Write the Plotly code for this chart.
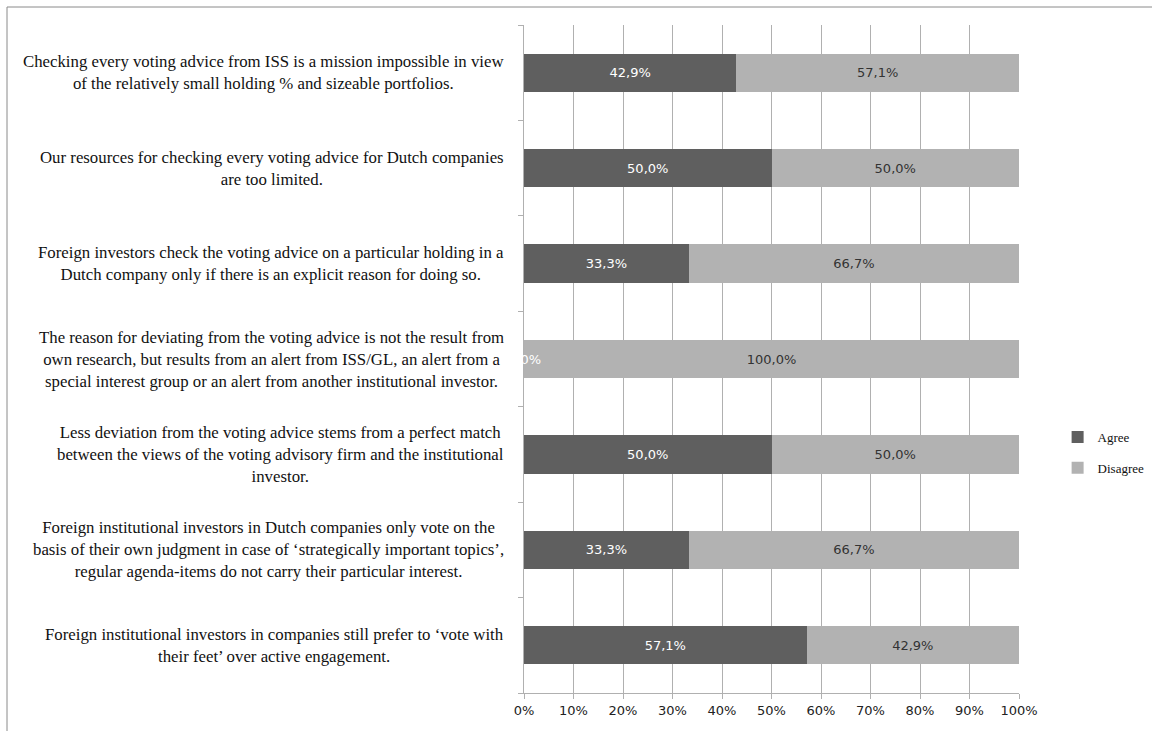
import plotly.graph_objects as go

statements = [
    "Checking every voting advice from ISS is a mission impossible in view<br>of the relatively small holding % and sizeable portfolios.",
    "Our resources for checking every voting advice for Dutch companies<br>are too limited.",
    "Foreign investors check the voting advice on a particular holding in a<br>Dutch company only if there is an explicit reason for doing so.",
    "The reason for deviating from the voting advice is not the result from<br>own research, but results from an alert from ISS/GL, an alert from a<br>special interest group or an alert from another institutional investor.",
    "Less deviation from the voting advice stems from a perfect match<br>between the views of the voting advisory firm and the institutional<br>investor.",
    "Foreign institutional investors in Dutch companies only vote on the<br>basis of their own judgment in case of ‘strategically important topics’,<br>regular agenda-items do not carry their particular interest.",
    "Foreign institutional investors in companies still prefer to ‘vote with<br>their feet’ over active engagement.",
]
agree = [42.9, 50.0, 33.3, 0.0, 50.0, 33.3, 57.1]
disagree = [57.1, 50.0, 66.7, 100.0, 50.0, 66.7, 42.9]
x_ticks = [0, 10, 20, 30, 40, 50, 60, 70, 80, 90, 100]

AGREE_COLOR = "#5f5f5f"
DISAGREE_COLOR = "#b2b2b2"
GRID = "#b0b0b0"
SERIF = "Liberation Serif"
SANS = "DejaVu Sans"

cats = list(range(len(statements)))

fig = go.Figure()
fig.add_trace(go.Bar(
    y=cats, x=agree, orientation="h", name="Agree",
    marker=dict(color=AGREE_COLOR, line=dict(width=0)),
    texttemplate="%{x:.1f}%", textposition="inside", insidetextanchor="middle",
    textfont=dict(family=SANS, size=13, color="white"),
    legendgroup="a",
))
fig.add_trace(go.Bar(
    y=cats, x=disagree, orientation="h", name="Disagree",
    marker=dict(color=DISAGREE_COLOR, line=dict(width=0)),
    texttemplate="%{x:.1f}%", textposition="inside", insidetextanchor="middle",
    textfont=dict(family=SANS, size=13, color="#333333"),
    legendgroup="d",
))

# zero-width segments still carry their data label, centred on the axis
for i, v in enumerate(agree):
    if v == 0:
        fig.add_annotation(
            x=v, y=cats[i], xref="x", yref="y",
            text=f"{v:.1f}".replace(".", ",") + "%", showarrow=False,
            font=dict(family=SANS, size=13, color="white"),
            xanchor="center", yanchor="middle",
        )

# statement labels, centred within a right-aligned box beside the axis
for i, s in enumerate(statements):
    fig.add_annotation(
        x=0, xref="paper", y=cats[i], yref="y", xshift=-18,
        text=s, showarrow=False, align="center",
        xanchor="right", yanchor="middle",
        font=dict(family=SERIF, size=16.8, color="#111111"),
    )

# outer chart frame (top and left edges)
x0 = (7 - 524) / 495
x1 = (1160 - 524) / 495
ytop = (693 - 7) / 668
ybot = (693 - 740) / 668
fig.add_shape(type="line", xref="paper", yref="paper", x0=x0, x1=x1, y0=ytop, y1=ytop,
              line=dict(color="#8a8a8a", width=1))
fig.add_shape(type="line", xref="paper", yref="paper", x0=x0, x1=x0, y0=ytop, y1=ybot,
              line=dict(color="#8a8a8a", width=1))

fig.update_layout(
    barmode="stack",
    bargap=0.6,
    separators=",.",
    width=1152, height=731,
    margin=dict(l=524, r=133, t=25, b=38, pad=0, autoexpand=False),
    paper_bgcolor="white", plot_bgcolor="white",
    legend=dict(
        x=1.078, y=0.36, xanchor="left", yanchor="middle",
        font=dict(family=SERIF, size=13, color="#111111"),
        tracegroupgap=11, traceorder="grouped",
        itemwidth=30,
    ),
    xaxis=dict(
        range=[0, 100], tickvals=x_ticks,
        ticktext=[f"{t}%" for t in x_ticks],
        showgrid=True, gridcolor=GRID, gridwidth=1,
        showline=True, linecolor=GRID, linewidth=1,
        ticks="outside", ticklen=5, tickcolor=GRID,
        tickfont=dict(family=SANS, size=13, color="#222222"),
        zeroline=False, fixedrange=True,
    ),
    yaxis=dict(
        type="category", autorange="reversed",
        tickvals=cats, showticklabels=False,
        tickson="boundaries", ticks="outside", ticklen=5, tickcolor=GRID,
        showgrid=False, showline=True, linecolor=GRID, linewidth=1,
        zeroline=False, fixedrange=True,
    ),
    showlegend=True,
)

fig.write_html("out.html")
